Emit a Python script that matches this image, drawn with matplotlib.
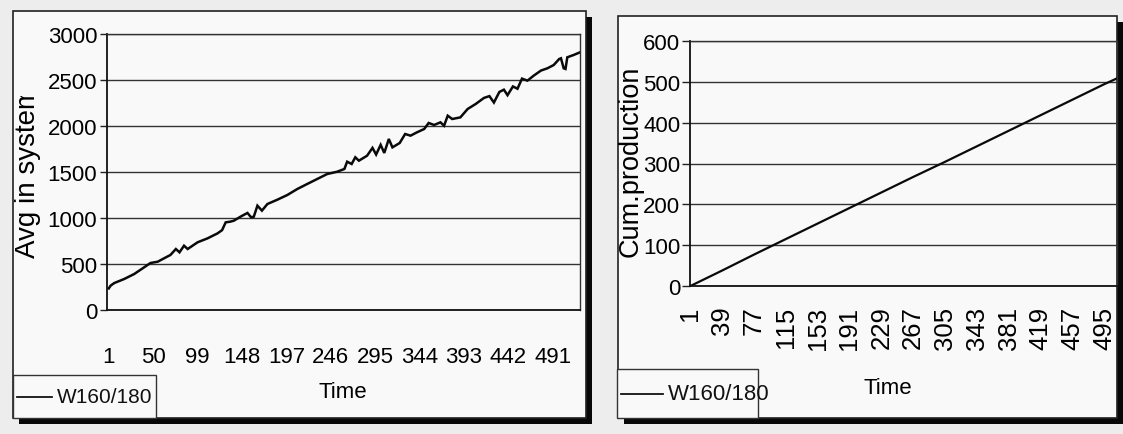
import matplotlib
matplotlib.use("Agg")
import matplotlib.pyplot as plt
from matplotlib import font_manager
from matplotlib.patches import Rectangle
from matplotlib.lines import Line2D
from matplotlib.transforms import Bbox, TransformedBbox

# ---------------------------------------------------------------- data
series_name = "W160/180"

avg_time = [1, 3, 7, 18, 29, 40, 47, 55, 62, 69, 75, 79, 84, 88, 99, 110, 121,
            126, 130, 135, 139, 147, 154, 158, 161, 165, 170, 176, 187, 198,
            209, 220, 231, 242, 253, 261, 264, 269, 273, 277, 286, 292, 296,
            301, 305, 310, 314, 322, 328, 334, 341, 349, 354, 360, 367, 371,
            375, 380, 389, 397, 406, 415, 421, 426, 432, 437, 441, 447, 452,
            457, 463, 470, 478, 485, 492, 498, 500, 503, 505, 507, 514, 521]
avg_in_system = [235, 265, 293, 337, 391, 464, 511, 525, 562, 598, 663, 627,
                 699, 663, 736, 779, 833, 868, 953, 960, 971, 1018, 1055, 1008,
                 1014, 1134, 1080, 1152, 1199, 1250, 1315, 1370, 1424, 1478,
                 1503, 1533, 1612, 1587, 1660, 1623, 1677, 1762, 1690, 1795,
                 1707, 1859, 1768, 1815, 1913, 1895, 1931, 1967, 2033, 2011,
                 2040, 2003, 2112, 2076, 2094, 2185, 2240, 2305, 2325, 2255,
                 2370, 2395, 2335, 2430, 2405, 2515, 2493, 2548, 2603, 2627,
                 2663, 2728, 2736, 2627, 2620, 2747, 2772, 2801]
avg_ticks = [1, 50, 99, 148, 197, 246, 295, 344, 393, 442, 491]
avg_yticks = [0, 500, 1000, 1500, 2000, 2500, 3000]

prod_time = [1, 39, 77, 115, 153, 191, 229, 267, 305, 343, 381, 419, 457,
             495, 510]
cum_production = [0, 38, 77, 115, 153, 191, 229, 267, 304, 342, 380, 418,
                  456, 494, 508]
prod_ticks = [1, 39, 77, 115, 153, 191, 229, 267, 305, 343, 381, 419, 457, 495]
prod_yticks = [0, 100, 200, 300, 400, 500, 600]

# ---------------------------------------------------------------- fonts
installed = {f.name for f in font_manager.fontManager.ttflist}
FONT = "Liberation Sans" if "Liberation Sans" in installed else "DejaVu Sans"
plt.rcParams["font.family"] = [FONT, "DejaVu Sans"]

W, H = 1123, 435
fig = plt.figure(figsize=(W / 100, H / 100), dpi=100, facecolor="#ededed")


def fx(x):
    return x / W


def fy(y):
    return 1 - y / H


def rect(x0, y0, x1, y1):
    return [x0 / W, 1 - y1 / H, (x1 - x0) / W, (y1 - y0) / H]


def panel(x0, y0, x1, y1, shadow=6):
    # drop shadow on the right and bottom, then the framed chart area
    fig.add_artist(Rectangle((fx(x0 + shadow), fy(y1 + shadow)),
                             (x1 - x0) / W, (y1 - y0) / H,
                             transform=fig.transFigure, facecolor="#080808",
                             edgecolor="none", zorder=-3))
    fig.add_artist(Rectangle((fx(x0), fy(y1)), (x1 - x0) / W, (y1 - y0) / H,
                             transform=fig.transFigure, facecolor="#f9f9f9",
                             edgecolor="#222222", linewidth=1.2, zorder=-2))


def legend_box(x0, y0, x1, y1, text_x, size):
    fig.add_artist(Rectangle((fx(x0), fy(y1)), (x1 - x0) / W, (y1 - y0) / H,
                             transform=fig.transFigure, facecolor="#f9f9f9",
                             edgecolor="#333333", linewidth=1.0, zorder=3))
    ym = (y0 + y1) / 2
    fig.add_artist(Line2D([fx(x0 + 4), fx(text_x - 5)], [fy(ym), fy(ym)],
                          transform=fig.transFigure, color="#111111",
                          linewidth=1.3, zorder=4))
    fig.text(fx(text_x), fy(ym), series_name, fontsize=size, ha="left",
             va="center", color="#111111", zorder=4)


def style_axes(ax):
    ax.set_facecolor("none")
    for side, sp in ax.spines.items():
        sp.set_color("#333333")
        sp.set_linewidth(1.0)
    ax.spines["left"].set_color("#111111")
    ax.spines["left"].set_linewidth(1.3)
    ax.spines["bottom"].set_color("#111111")
    ax.spines["bottom"].set_linewidth(1.3)
    ax.grid(axis="y", color="#333333", linewidth=1.0)
    ax.set_axisbelow(True)


# ---------------------------------------------------------------- left chart
panel(13, 12, 586, 419)
ax1 = fig.add_axes(rect(107, 35, 580, 311))
style_axes(ax1)
ax1.plot(avg_time, avg_in_system, color="#0a0a0a", linewidth=1.8,
         solid_joinstyle="miter")
ax1.set_xlim(-1, 521)
ax1.set_ylim(0, 3000)
ax1.set_yticks(avg_yticks)
ax1.set_xticks(avg_ticks)
ax1.tick_params(axis="y", length=5, width=1.0, pad=2, labelsize=16,
                color="#222222")
ax1.tick_params(axis="x", length=0, pad=26, labelsize=16)
fig.text(fx(343), fy(393), "Time", fontsize=16, ha="center", va="center")
ylab1 = fig.text(fx(28), fy(258), "Avg in system", fontsize=20, rotation=90,
                 ha="center", va="bottom")
ylab1.set_clip_box(TransformedBbox(Bbox.from_extents(0, 0, 1, fy(97)),
                                   fig.transFigure))
ylab1.set_clip_on(True)
legend_box(13, 376, 156, 419, 57, 15)

# ---------------------------------------------------------------- right chart
panel(618, 17, 1117, 419)
ax2 = fig.add_axes(rect(690, 42, 1117, 287))
style_axes(ax2)
ax2.plot(prod_time, cum_production, color="#0a0a0a", linewidth=1.6)
ax2.set_xlim(0.5, 510.5)
ax2.set_ylim(0, 600)
ax2.set_yticks(prod_yticks)
ax2.set_xticks(prod_ticks)
ax2.set_xticklabels([str(t) for t in prod_ticks], rotation=90, va="top",
                    ha="center")
ax2.tick_params(axis="y", length=6, width=1.0, pad=1, labelsize=16,
                color="#222222")
ax2.tick_params(axis="x", length=0, pad=14, labelsize=18.5)
fig.text(fx(888), fy(388), "Time", fontsize=16, ha="center", va="center")
fig.text(fx(631), fy(257), "Cum.production", fontsize=19.5, rotation=90,
         ha="center", va="bottom")
legend_box(617, 370, 758, 419, 668, 16)

fig.savefig("out.png", dpi=100, facecolor=fig.get_facecolor())
